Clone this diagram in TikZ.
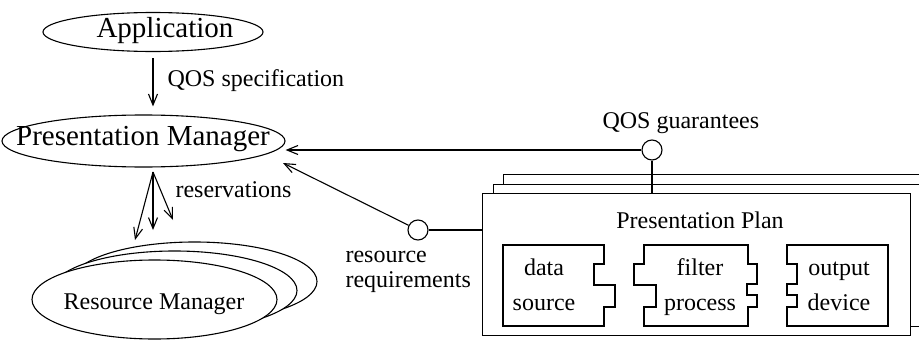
\documentclass[tikz,border=0pt]{standalone}
\usepackage{fontspec}
\setmainfont{Liberation Serif}
\usetikzlibrary{shapes.geometric,arrows.meta}
\begin{document}
\begin{tikzpicture}[x=1pt,y=-1pt,line width=1.1pt,
  ell/.style={draw,ellipse,inner sep=0pt,fill=white},
  big/.style={font=\fontsize{29}{31}\selectfont,inner sep=0pt},
  lbl/.style={font=\fontsize{24}{26}\selectfont,inner sep=0pt},
  arr/.style={-{Straight Barb[length=11pt,width=9pt]}},
  port/.style={draw,circle,minimum size=20pt,inner sep=0pt,fill=white},
  planbox/.style={draw,fill=white,inner sep=0pt,anchor=north west,minimum width=428pt,minimum height=142pt},
  rmell/.style={ell,minimum width=245pt,minimum height=79pt}]
\useasboundingbox (0,0) rectangle (919,340);
\begin{scope}
\clip (0,0) rectangle (919,340);
% application and presentation manager
\node[ell,minimum width=220pt,minimum height=39pt] (app) at (153,32) {};
\node[big] (apptxt) at (165,31) {Application};
\node[ell,minimum width=283pt,minimum height=52pt] (pm) at (143.5,141) {};
\node[big] (pmtxt) at (143,139) {Presentation Manager};
% resource managers
\node[rmell] (rm3) at (194.5,281.5) {};
\node[rmell] (rm2) at (174.5,290.5) {};
\node[rmell] (rm) at (154.5,299.5) {};
\node[lbl] (rmtxt) at (154,304) {Resource Manager};
% presentation plans
\node[planbox] (plan3) at (503,174) {};
\node[planbox] (plan2) at (493,184) {};
\node[planbox] (plan) at (482,193) {};
\node[lbl] (ptitle) at (700,220) {Presentation Plan};
% components
\draw (503,245) -- (604,245) -- (604,264) -- (594,264) -- (594,285) -- (615,285)
  -- (615,307) -- (604,307) -- (604,326) -- (503,326) -- cycle;
\draw (644,245) -- (748,245) -- (748,264) -- (757,264) -- (757,284) -- (747,284)
  -- (747,295) -- (757,295) -- (757,307) -- (748,307) -- (748,326) -- (644,326)
  -- (644,307) -- (656,307) -- (656,285) -- (634,285) -- (634,264) -- (644,264) -- cycle;
\draw (787,245) -- (888,245) -- (888,326) -- (787,326) -- (787,307) -- (797,307)
  -- (797,295) -- (787,295) -- (787,284) -- (797,284) -- (797,264) -- (787,264) -- cycle;
\node[lbl,anchor=base] (d1) at (544,275) {data};
\node[lbl,anchor=base] (d2) at (544,310) {source};
\node[lbl,anchor=base] (f1) at (700,275) {filter};
\node[lbl,anchor=base] (f2) at (700,310) {process};
\node[lbl,anchor=base] (o1) at (839,275) {output};
\node[lbl,anchor=base] (o2) at (839,310) {device};
% ports
\node[port] (qg) at (652,150) {};
\node[port] (rr) at (418,230) {};
% connectors
\draw[arr] (qg) -- (qg -| pm.east);
\draw (qg) -- (qg |- plan.north);
\draw (rr) -- (rr -| plan.west);
\coordinate (rrtip) at (283,163);
\draw[arr] (rr) -- (rrtip);
\draw[arr,shorten <=6pt,shorten >=8pt] (app.south) -- (app.south |- pm.north);
\coordinate (rv) at (153,172);
\coordinate (rv1) at (135,240);
\coordinate (rv2) at (153,230);
\coordinate (rv3) at (173,220);
\draw[arr] (rv) -- (rv1);
\draw[arr] (rv) -- (rv2);
\draw[arr] (rv) -- (rv3);
% labels
\node[lbl,anchor=west] (qsl) at (167,81) {QOS specification};
\node[lbl,anchor=west] (rvl) at (175,190) {reservations};
\node[lbl,anchor=west] (qgl) at (602,123) {QOS guarantees};
\node[lbl,anchor=base west] (rrl1) at (345,262) {resource};
\node[lbl,anchor=base west] (rrl2) at (345,287) {requirements};
\end{scope}
\end{tikzpicture}
\end{document}
